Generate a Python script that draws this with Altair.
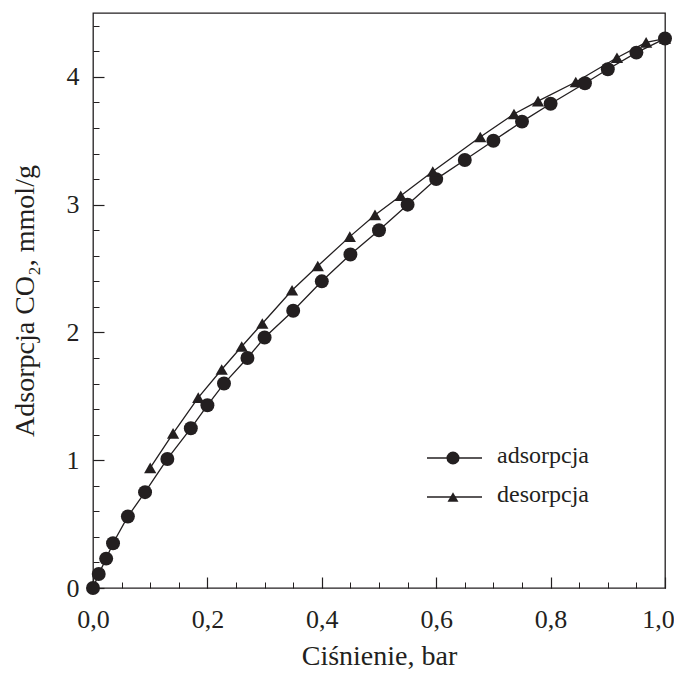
import altair as alt
import pandas as pd

# ---- data ----
ads_p = [0.0, 0.01, 0.023, 0.035, 0.061, 0.091, 0.13, 0.171, 0.2, 0.229, 0.27, 0.30,
         0.35, 0.40, 0.45, 0.50, 0.55, 0.60, 0.65, 0.70, 0.75, 0.80, 0.86, 0.90, 0.95, 1.0]
ads_q = [0.0, 0.11, 0.23, 0.35, 0.56, 0.75, 1.01, 1.25, 1.43, 1.60, 1.80, 1.96,
         2.17, 2.40, 2.61, 2.80, 3.00, 3.20, 3.35, 3.50, 3.65, 3.79, 3.95, 4.06, 4.19, 4.30]

des_p = [0.10, 0.14, 0.184, 0.225, 0.26, 0.296, 0.348, 0.393, 0.449, 0.493, 0.538,
         0.594, 0.677, 0.736, 0.778, 0.844, 0.916, 0.967, 1.0]
des_q = [0.94, 1.21, 1.49, 1.71, 1.89, 2.07, 2.33, 2.52, 2.75, 2.92, 3.07,
         3.26, 3.53, 3.71, 3.81, 3.96, 4.15, 4.27, 4.30]

series_names = ["adsorpcja", "desorpcja"]
x_major = [0.0, 0.2, 0.4, 0.6, 0.8, 1.0]
x_minor = [i * 0.05 for i in range(21)]
y_major = [0, 1, 2, 3, 4]
y_minor = [round(i * 0.2, 1) for i in range(23)]

x_title = "Ciśnienie, bar"
y_title = "Adsorpcja CO₂, mmol/g"

FONT = "Liberation Serif"
INK = "#231f20"

df = pd.concat([
    pd.DataFrame({"p": ads_p, "q": ads_q, "s": series_names[0]}),
    pd.DataFrame({"p": des_p, "q": des_q, "s": series_names[1]}),
], ignore_index=True)

xscale = alt.Scale(domain=[0, 1], nice=False, zero=False)
yscale = alt.Scale(domain=[0, 4.5], nice=False, zero=False)

MAJ = 11
MIN = 6

x_major_axis = alt.Axis(
    orient="bottom", values=x_major, offset=-MAJ, tickSize=MAJ, domain=False, grid=False,
    labelExpr="replace(format(datum.value, '.1f'), '.', ',')",
    labelFont=FONT, labelFontSize=26, labelColor=INK, labelPadding=18,
    labelFlush=False, labelOverlap=False,
    labelOffset={"condition": {"test": "datum.value >= 1", "value": -7}, "value": 0},
    tickColor=INK, tickWidth=1.2,
    title=x_title, titleFont=FONT, titleFontSize=28, titleFontWeight="normal",
    titleColor=INK, titlePadding=10,
)
y_major_axis = alt.Axis(
    orient="left", values=y_major, offset=-MAJ, tickSize=MAJ, domain=False, grid=False,
    labelFont=FONT, labelFontSize=26, labelColor=INK, labelPadding=14,
    labelFlush=False, labelOverlap=False,
    tickColor=INK, tickWidth=1.2,
    title=y_title, titleFont=FONT, titleFontSize=28, titleFontWeight="normal",
    titleColor=INK, titlePadding=27,
)
x_minor_axis = alt.Axis(
    orient="bottom", values=x_minor, offset=-MIN, tickSize=MIN, domain=False, grid=False,
    labels=False, title=None, tickColor=INK, tickWidth=1.0,
)
y_minor_axis = alt.Axis(
    orient="left", values=y_minor, offset=-MIN, tickSize=MIN, domain=False, grid=False,
    labels=False, title=None, tickColor=INK, tickWidth=1.0,
)

lines = alt.Chart(df).mark_line(color=INK, strokeWidth=1.3).encode(
    x=alt.X("p:Q", scale=xscale, axis=x_minor_axis),
    y=alt.Y("q:Q", scale=yscale, axis=y_minor_axis),
    detail="s:N",
    order="p:Q",
)

points = alt.Chart(df).mark_point(filled=True, opacity=1, color=INK).encode(
    x=alt.X("p:Q", scale=xscale, axis=x_major_axis),
    y=alt.Y("q:Q", scale=yscale, axis=y_major_axis),
    shape=alt.Shape("s:N", scale=alt.Scale(domain=series_names, range=["circle", "triangle-up"]), legend=None),
    size=alt.Size("s:N", scale=alt.Scale(domain=series_names, range=[195, 150]), legend=None),
)

# ---- hand-drawn legend (line + marker + label) ----
leg_x0, leg_x1, leg_xm, leg_xt = 334, 389, 360, 404
leg_rows = [445, 484]
shapes = ["circle", "triangle-up"]
sizes = [170, 120]

legend_layers = []
for name, yy, shp, sz in zip(series_names, leg_rows, shapes, sizes):
    ldf = pd.DataFrame({"label": [name]})
    base = alt.Chart(ldf)
    legend_layers.append(base.mark_rule(color=INK, strokeWidth=1.3).encode(
        x=alt.value(leg_x0), x2=alt.value(leg_x1), y=alt.value(yy)))
    legend_layers.append(base.mark_point(filled=True, opacity=1, color=INK, shape=shp, size=sz).encode(
        x=alt.value(leg_xm), y=alt.value(yy)))
    legend_layers.append(base.mark_text(align="left", baseline="middle", font=FONT,
                                        fontSize=24, color=INK, dy=-2).encode(
        x=alt.value(leg_xt), y=alt.value(yy), text="label:N"))

chart = alt.layer(lines, points, *legend_layers).resolve_axis(
    x="independent", y="independent"
).properties(
    width=572, height=575,
    autosize=alt.AutoSizeParams(type="none"),
    padding={"left": 85, "top": 5, "right": 9, "bottom": 86},
    background="white",
).configure_view(stroke=INK, strokeWidth=1.3)

chart.save("out.html", embed_options={"renderer": "svg", "actions": False})
